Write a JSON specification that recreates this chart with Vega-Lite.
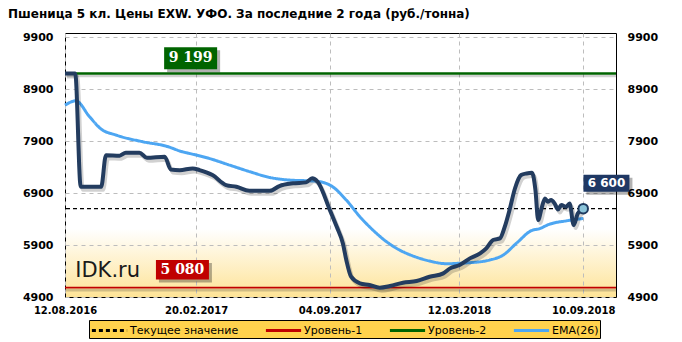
{
  "$schema": "https://vega.github.io/schema/vega-lite/v6.json",
  "width": 551,
  "height": 264,
  "autosize": {"type": "none"},
  "padding": {"left": 65, "top": 33, "right": 66, "bottom": 45},
  "background": "white",
  "title": {"text": "Пшеница 5 кл. Цены EXW. УФО. За последние 2 года (руб./тонна)", "anchor": "start", "frame": "group", "dx": -57, "offset": 10, "font": "DejaVu Sans", "fontSize": 12, "fontWeight": "bold", "color": "#000000"},
  "datasets": {
    "levels": [
      {"series": "Текущее значение", "value": 6600},
      {"series": "Уровень-1", "value": 5080},
      {"series": "Уровень-2", "value": 9199}
    ],
    "price": [
      {"date": "2016-08-12", "value": 9200}, {"date": "2016-08-27", "value": 9200}, {"date": "2016-09-04", "value": 7020}, {"date": "2016-10-04", "value": 7020},
      {"date": "2016-10-11", "value": 7630}, {"date": "2016-10-31", "value": 7620}, {"date": "2016-11-09", "value": 7675}, {"date": "2016-11-29", "value": 7675},
      {"date": "2016-12-10", "value": 7580}, {"date": "2017-01-05", "value": 7600}, {"date": "2017-01-14", "value": 7355}, {"date": "2017-01-27", "value": 7340},
      {"date": "2017-02-15", "value": 7375}, {"date": "2017-02-25", "value": 7342}, {"date": "2017-03-16", "value": 7246}, {"date": "2017-04-05", "value": 7054},
      {"date": "2017-04-20", "value": 7021}, {"date": "2017-05-09", "value": 6944}, {"date": "2017-06-08", "value": 6944}, {"date": "2017-06-22", "value": 7035},
      {"date": "2017-07-12", "value": 7087}, {"date": "2017-07-31", "value": 7106}, {"date": "2017-08-09", "value": 7183}, {"date": "2017-08-17", "value": 7117},
      {"date": "2017-09-04", "value": 6571}, {"date": "2017-09-14", "value": 6250}, {"date": "2017-09-23", "value": 5930}, {"date": "2017-09-28", "value": 5611},
      {"date": "2017-10-05", "value": 5290}, {"date": "2017-10-18", "value": 5163}, {"date": "2017-11-01", "value": 5131}, {"date": "2017-11-16", "value": 5080},
      {"date": "2017-12-01", "value": 5111}, {"date": "2017-12-20", "value": 5175}, {"date": "2018-01-09", "value": 5208}, {"date": "2018-01-28", "value": 5290},
      {"date": "2018-02-17", "value": 5355}, {"date": "2018-02-27", "value": 5451}, {"date": "2018-03-13", "value": 5515}, {"date": "2018-03-28", "value": 5643},
      {"date": "2018-04-12", "value": 5740}, {"date": "2018-04-21", "value": 5836}, {"date": "2018-05-01", "value": 5996}, {"date": "2018-05-11", "value": 6028},
      {"date": "2018-05-18", "value": 6250}, {"date": "2018-05-25", "value": 6571}, {"date": "2018-06-02", "value": 6988}, {"date": "2018-06-11", "value": 7246},
      {"date": "2018-06-19", "value": 7278}, {"date": "2018-06-27", "value": 7290}, {"date": "2018-07-02", "value": 6958}, {"date": "2018-07-06", "value": 6380},
      {"date": "2018-07-11", "value": 6605}, {"date": "2018-07-16", "value": 6797}, {"date": "2018-07-20", "value": 6733}, {"date": "2018-07-25", "value": 6765},
      {"date": "2018-07-30", "value": 6701}, {"date": "2018-08-04", "value": 6586}, {"date": "2018-08-09", "value": 6669}, {"date": "2018-08-16", "value": 6637},
      {"date": "2018-08-21", "value": 6701}, {"date": "2018-08-27", "value": 6284}, {"date": "2018-09-02", "value": 6508}, {"date": "2018-09-10", "value": 6600}
    ],
    "ema": [
      {"date": "2016-08-12", "value": 8592}, {"date": "2016-08-28", "value": 8675}, {"date": "2016-09-17", "value": 8367}, {"date": "2016-10-04", "value": 8131},
      {"date": "2016-10-26", "value": 8015}, {"date": "2016-12-04", "value": 7887}, {"date": "2017-01-07", "value": 7804}, {"date": "2017-01-31", "value": 7694},
      {"date": "2017-02-10", "value": 7663}, {"date": "2017-03-11", "value": 7567}, {"date": "2017-04-10", "value": 7438}, {"date": "2017-05-10", "value": 7310},
      {"date": "2017-06-08", "value": 7200}, {"date": "2017-07-07", "value": 7150}, {"date": "2017-08-05", "value": 7135}, {"date": "2017-08-20", "value": 7120},
      {"date": "2017-09-08", "value": 7021}, {"date": "2017-09-28", "value": 6765}, {"date": "2017-10-18", "value": 6444}, {"date": "2017-11-06", "value": 6188},
      {"date": "2017-11-26", "value": 5963}, {"date": "2017-12-15", "value": 5804}, {"date": "2018-01-04", "value": 5688}, {"date": "2018-01-28", "value": 5592},
      {"date": "2018-02-22", "value": 5540}, {"date": "2018-03-14", "value": 5550}, {"date": "2018-03-28", "value": 5560}, {"date": "2018-04-26", "value": 5611},
      {"date": "2018-05-16", "value": 5708}, {"date": "2018-06-04", "value": 5932}, {"date": "2018-06-28", "value": 6188}, {"date": "2018-07-06", "value": 6207},
      {"date": "2018-07-23", "value": 6303}, {"date": "2018-08-17", "value": 6367}, {"date": "2018-09-10", "value": 6412}
    ]
  },
  "config": {
    "view": {"stroke": "#000000", "strokeWidth": 1, "fill": {"gradient": "linear", "x1": 0, "y1": 0, "x2": 0, "y2": 1, "stops": [{"offset": 0, "color": "#FFFFFF"}, {"offset": 0.74, "color": "#FFFFFF"}, {"offset": 1, "color": "#FEE396"}]}},
    "axis": {"labelFont": "DejaVu Sans", "labelFontWeight": "bold", "labelColor": "#000000", "ticks": false, "domain": false, "title": null, "gridColor": "#BDBDBD", "gridDash": [4, 4], "gridWidth": 1},
    "legend": {"orient": "none", "legendX": 24, "legendY": 287, "direction": "horizontal", "columns": 4, "gridAlign": "none", "title": null, "symbolType": "M-2.2,0H2.2", "symbolSize": 256, "symbolOffset": 10, "symbolStrokeWidth": 3, "labelFont": "DejaVu Sans", "labelFontSize": 11, "labelColor": "#000000", "columnPadding": 20, "padding": 1, "fillColor": "#FFD24D", "strokeColor": "#000000", "labelOffset": 11}
  },
  "resolve": {"axis": {"y": "independent"}},
  "layer": [
    {
      "data": {"name": "levels"},
      "transform": [{"filter": "datum.value != 6600"}],
      "mark": {"type": "rule", "color": "#000000", "opacity": 0.18, "strokeWidth": 2.5, "yOffset": 2.5},
      "encoding": {
        "y": {"field": "value", "type": "quantitative", "axis": null}
      }
    },
    {
      "data": {"name": "levels"},
      "mark": {"type": "rule"},
      "encoding": {
        "y": {"field": "value", "type": "quantitative", "scale": {"domain": [4900, 9980], "nice": false, "zero": false},
          "axis": {"orient": "left", "values": [4900, 5900, 6900, 7900, 8900, 9900], "format": "d", "grid": true, "labelFontSize": 11, "labelPadding": 12}},
        "color": {"field": "series", "type": "nominal",
          "scale": {"domain": ["Текущее значение", "Уровень-1", "Уровень-2", "EMA(26)"], "range": ["#000000", "#C00000", "#006400", "#4DA6F2"]}},
        "strokeDash": {"field": "series", "type": "nominal",
          "scale": {"domain": ["Текущее значение", "Уровень-1", "Уровень-2", "EMA(26)"], "range": [[4, 3], [1, 0], [1, 0], [1, 0]]}},
        "strokeWidth": {"field": "series", "type": "nominal", "scale": {"domain": ["Текущее значение", "Уровень-1", "Уровень-2"], "range": [1.2, 2.5, 2.5]}, "legend": null}
      }
    },
    {
      "data": {"name": "ema"},
      "mark": {"type": "line", "interpolate": "monotone", "strokeWidth": 3},
      "encoding": {
        "x": {"field": "date", "type": "temporal",
          "scale": {"type": "utc", "domain": [{"year": 2016, "month": 8, "date": 12, "utc": true}, {"year": 2018, "month": 10, "date": 28, "utc": true}]},
          "axis": {"values": [{"year": 2016, "month": 8, "date": 12, "utc": true}, {"year": 2017, "month": 2, "date": 20, "utc": true}, {"year": 2017, "month": 9, "date": 4, "utc": true}, {"year": 2018, "month": 3, "date": 12, "utc": true}, {"year": 2018, "month": 9, "date": 10, "utc": true}],
            "labelExpr": "utcFormat(datum.value, '%d.%m.%Y')", "labelFontSize": 10, "labelPadding": 8, "grid": true, "labelOverlap": false, "labelFlush": false, "labelBound": false}},
        "y": {"field": "value", "type": "quantitative", "axis": null},
        "color": {"datum": "EMA(26)"},
        "strokeDash": {"datum": "EMA(26)"}
      }
    },
    {
      "data": {"name": "price"},
      "mark": {"type": "line", "interpolate": "monotone", "strokeWidth": 4, "color": "#000000", "opacity": 0.18, "xOffset": 2, "yOffset": 3},
      "encoding": {
        "x": {"field": "date", "type": "temporal"},
        "y": {"field": "value", "type": "quantitative", "axis": null}
      }
    },
    {
      "data": {"name": "price"},
      "mark": {"type": "line", "interpolate": "monotone", "strokeWidth": 4, "color": "#233C5F"},
      "encoding": {
        "x": {"field": "date", "type": "temporal"},
        "y": {"field": "value", "type": "quantitative",
          "axis": {"orient": "right", "values": [4900, 5900, 6900, 7900, 8900, 9900], "format": "d", "grid": false, "labelFontSize": 11, "labelPadding": 11}}
      }
    },
    {
      "data": {"values": [{}]},
      "mark": {"type": "point", "filled": true, "size": 90, "fill": "#8CC5DA", "stroke": "#1F3A5F", "strokeWidth": 2, "opacity": 1},
      "encoding": {
        "x": {"datum": {"year": 2018, "month": 9, "date": 10, "utc": true}, "type": "temporal"},
        "y": {"datum": 6600, "type": "quantitative", "axis": null}
      }
    },
    {
      "data": {"values": [{}]},
      "mark": {"type": "point", "filled": true, "opacity": 0.3, "shape": "M-1,-0.415H1V0.415H-1Z", "size": 2809, "color": "#000000", "xOffset": 3, "yOffset": 3},
      "encoding": {
        "x": {"datum": {"year": 2017, "month": 2, "date": 12, "utc": true}, "type": "temporal"},
        "y": {"datum": 9496, "type": "quantitative", "axis": null}
      }
    },
    {
      "data": {"values": [{}]},
      "mark": {"type": "point", "filled": true, "opacity": 1, "shape": "M-1,-0.415H1V0.415H-1Z", "size": 2809, "color": "#006400"},
      "encoding": {
        "x": {"datum": {"year": 2017, "month": 2, "date": 12, "utc": true}, "type": "temporal"},
        "y": {"datum": 9496, "type": "quantitative", "axis": null}
      }
    },
    {
      "data": {"values": [{}]},
      "mark": {"type": "text", "text": "9 199", "font": "DejaVu Serif", "fontWeight": "bold", "fontSize": 14, "color": "#FFFFFF", "align": "center", "baseline": "middle"},
      "encoding": {
        "x": {"datum": {"year": 2017, "month": 2, "date": 12, "utc": true}, "type": "temporal"},
        "y": {"datum": 9496, "type": "quantitative", "axis": null}
      }
    },
    {
      "data": {"values": [{}]},
      "mark": {"type": "point", "filled": true, "opacity": 0.3, "shape": "M-1,-0.368H1V0.368H-1Z", "size": 2809, "color": "#000000", "xOffset": 3, "yOffset": 3},
      "encoding": {
        "x": {"datum": {"year": 2017, "month": 1, "date": 31, "utc": true}, "type": "temporal"},
        "y": {"datum": 5425, "type": "quantitative", "axis": null}
      }
    },
    {
      "data": {"values": [{}]},
      "mark": {"type": "point", "filled": true, "opacity": 1, "shape": "M-1,-0.368H1V0.368H-1Z", "size": 2809, "color": "#C00000"},
      "encoding": {
        "x": {"datum": {"year": 2017, "month": 1, "date": 31, "utc": true}, "type": "temporal"},
        "y": {"datum": 5425, "type": "quantitative", "axis": null}
      }
    },
    {
      "data": {"values": [{}]},
      "mark": {"type": "text", "text": "5 080", "font": "DejaVu Serif", "fontWeight": "bold", "fontSize": 14, "color": "#FFFFFF", "align": "center", "baseline": "middle"},
      "encoding": {
        "x": {"datum": {"year": 2017, "month": 1, "date": 31, "utc": true}, "type": "temporal"},
        "y": {"datum": 5425, "type": "quantitative", "axis": null}
      }
    },
    {
      "data": {"values": [{}]},
      "mark": {"type": "point", "filled": true, "opacity": 0.3, "shape": "M-1,-0.37H1V0.37H-1Z", "size": 2116, "color": "#000000", "xOffset": 3, "yOffset": 3},
      "encoding": {
        "x": {"datum": {"year": 2018, "month": 10, "date": 14, "utc": true}, "type": "temporal"},
        "y": {"datum": 7087, "type": "quantitative", "axis": null}
      }
    },
    {
      "data": {"values": [{}]},
      "mark": {"type": "point", "filled": true, "opacity": 1, "shape": "M-1,-0.37H1V0.37H-1Z", "size": 2116, "color": "#1F3864"},
      "encoding": {
        "x": {"datum": {"year": 2018, "month": 10, "date": 14, "utc": true}, "type": "temporal"},
        "y": {"datum": 7087, "type": "quantitative", "axis": null}
      }
    },
    {
      "data": {"values": [{}]},
      "mark": {"type": "text", "text": "6 600", "font": "DejaVu Sans", "fontWeight": "bold", "fontSize": 12, "color": "#FFFFFF", "align": "center", "baseline": "middle"},
      "encoding": {
        "x": {"datum": {"year": 2018, "month": 10, "date": 14, "utc": true}, "type": "temporal"},
        "y": {"datum": 7087, "type": "quantitative", "axis": null}
      }
    },
    {
      "data": {"values": [{}]},
      "mark": {"type": "text", "text": "IDK.ru", "font": "DejaVu Sans", "fontSize": 21, "color": "#1A1A1A", "align": "left", "baseline": "alphabetic"},
      "encoding": {
        "x": {"datum": {"year": 2016, "month": 8, "date": 27, "utc": true}, "type": "temporal"},
        "y": {"datum": 5290, "type": "quantitative", "axis": null}
      }
    }
  ]
}
